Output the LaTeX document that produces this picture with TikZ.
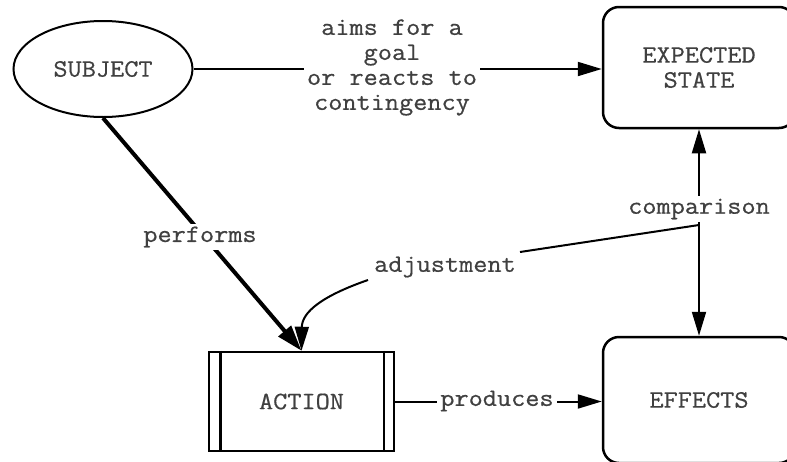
\documentclass[tikz,border=0pt]{standalone}
\usepackage{fontspec}
\newfontfamily\courfont[FakeStretch=1.1,FakeBold=0.6]{Latin Modern Mono}
\usetikzlibrary{shapes.geometric,arrows.meta}
\begin{document}
\begin{tikzpicture}[x=1pt,y=-1pt,
  txt/.style={font=\courfont\fontsize{25}{25}\selectfont, text=black!75, align=center},
  conn/.style={line width=2pt, -{Triangle[length=24pt,width=14pt]}},
  lbl/.style={txt, fill=white, inner sep=3pt},
  rbox/.style={txt, draw, line width=2.5pt, rounded corners=16pt, minimum width=192pt, minimum height=121pt},
]
\useasboundingbox (0,0) rectangle (787,461);
\clip (0,0) rectangle (787,461);
% main nodes
\node[txt, ellipse, draw, line width=2pt, minimum width=179pt, minimum height=96pt, inner sep=0pt] (subj) at (103,69) {SUBJECT};
\node[rbox] (exp) at (699,67.5) {EXPECTED\\STATE};
\node[rbox, minimum height=126pt] (eff) at (699,400) {EFFECTS};
\node[txt, draw, line width=2.5pt, minimum width=185pt, minimum height=99pt] (act) at (301.5,401.5) {ACTION};
\draw[line width=2.5pt] ([xshift=12.5pt]act.north west) -- ([xshift=12.5pt]act.south west);
\draw[line width=2.5pt] ([xshift=-11.5pt]act.north east) -- ([xshift=-11.5pt]act.south east);
% coordinates
\coordinate (cmp) at (699,225);
\coordinate (a1) at (520,252);
\coordinate (a2) at (368,280);
% connectors
\draw[conn] (subj.east) -- (subj.east -| exp.west);
\draw[line width=4pt, -{Triangle[length=26pt,width=16pt]}] (subj.south) -- (act.north);
\draw[conn] (cmp) -- (exp.south);
\draw[conn] (cmp) -- (eff.north);
\draw[line width=2pt] (cmp) -- (a1);
\draw[conn] (a2) .. controls (322,296) and (302,312) .. (act.north);
\draw[conn] (act.east) -- (act.east -| eff.west);
% labels
\node[lbl] (laims) at (392,67.5) {aims for a\\goal\\or reacts to\\contingency};
\node[lbl] (lperf) at (200,237) {performs};
\node[lbl] (lcomp) at (699,209) {comparison};
\node[lbl] (ladj) at (445,267) {adjustment};
\node[lbl] (lprod) at (497,401) {produces};
\end{tikzpicture}
\end{document}
